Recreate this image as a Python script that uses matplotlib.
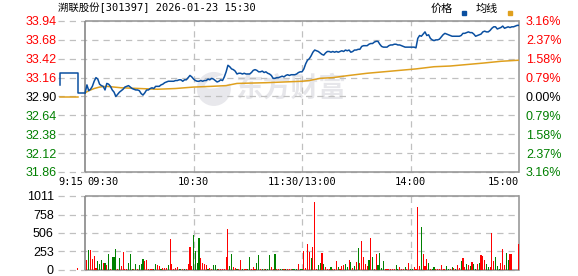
import matplotlib
matplotlib.use("Agg")
import matplotlib.pyplot as plt
from matplotlib.patches import Ellipse, Rectangle
import matplotlib.transforms as mtransforms

# ---------------- data ----------------
title_text = "溯联股份[301397] 2026-01-23 15:30"
prev_close = 32.90
price_ticks = [33.94, 33.68, 33.42, 33.16, 32.90, 32.64, 32.38, 32.12, 31.86]
pct_labels = ["3.16%", "2.37%", "1.58%", "0.79%", "0.00%", "0.79%", "1.58%", "2.37%", "3.16%"]

# pre-market (minutes relative to 09:30)
pre_minutes = [-14, -14, -4, -4, 0]
pre_prices = [33.06, 33.23, 33.23, 32.95, 32.95]
pre_avg_minutes = [-14, -4]
pre_avg_values = [32.89, 32.89]
pre_vol_minute = [-4]
pre_vol = [31]

# minute prices 09:30 .. 11:30 (0..120), 13:00 .. 15:00 (120..240)
price = [
    32.95, 33.06, 32.98, 33.00, 33.04, 33.11, 33.16, 33.14, 33.07, 33.05,
    33.04, 32.99, 33.08, 33.07, 33.04, 32.99, 32.96, 32.90, 32.93, 32.96,
    32.98, 33.00, 33.03, 33.04, 33.05, 33.03, 33.01, 33.00, 32.99, 32.99,
    32.98, 32.94, 32.92, 32.95, 32.99, 32.99, 33.01, 33.02, 33.01, 33.04,
    33.04, 33.04, 33.06, 33.07, 33.09, 33.10, 33.11, 33.11, 33.11, 33.11,
    33.12, 33.12, 33.13, 33.13, 33.11, 33.13, 33.13, 33.16, 33.19, 33.17,
    33.14, 33.12, 33.11, 33.11, 33.12, 33.11, 33.12, 33.12, 33.14, 33.13,
    33.15, 33.14, 33.12, 33.10, 33.11, 33.13, 33.12, 33.17, 33.24, 33.33,
    33.31, 33.28, 33.27, 33.25, 33.21, 33.22, 33.22, 33.21, 33.22, 33.21,
    33.21, 33.21, 33.23, 33.26, 33.27, 33.26, 33.24, 33.24, 33.25, 33.23,
    33.24, 33.22, 33.21, 33.19, 33.15, 33.15, 33.16, 33.16, 33.17, 33.18,
    33.17, 33.19, 33.20, 33.19, 33.20, 33.20, 33.20, 33.21, 33.23, 33.24,
    33.24, 33.28, 33.35, 33.40, 33.42, 33.46, 33.51, 33.54, 33.53, 33.52,
    33.50, 33.48, 33.47, 33.50, 33.52, 33.52, 33.51, 33.52, 33.51, 33.52,
    33.51, 33.52, 33.53, 33.52, 33.54, 33.53, 33.54, 33.51, 33.52, 33.54,
    33.54, 33.55, 33.55, 33.59, 33.60, 33.60, 33.60, 33.62, 33.63, 33.63,
    33.65, 33.66, 33.66, 33.62, 33.59, 33.58, 33.58, 33.58, 33.60, 33.61,
    33.61, 33.62, 33.62, 33.61, 33.61, 33.60, 33.59, 33.58, 33.58, 33.58,
    33.58, 33.58, 33.58, 33.57, 33.70, 33.74, 33.73, 33.76, 33.79, 33.74,
    33.75, 33.70, 33.68, 33.67, 33.68, 33.68, 33.69, 33.72, 33.75, 33.77,
    33.76, 33.75, 33.74, 33.73, 33.73, 33.73, 33.73, 33.73, 33.74, 33.77,
    33.77, 33.78, 33.79, 33.78, 33.78, 33.76, 33.73, 33.74, 33.75, 33.76,
    33.79, 33.80, 33.79, 33.79, 33.81, 33.84, 33.86, 33.86, 33.83, 33.84,
    33.85, 33.87, 33.84, 33.85, 33.86, 33.85, 33.86, 33.86, 33.87, 33.88,
    33.88,
]

avg_minutes = [0, 2, 5, 8, 12, 20, 30, 40, 50, 60, 70, 78, 84, 100, 110, 120,
               124, 130, 137, 146, 156, 165, 174, 183, 193, 202, 211, 220, 230, 240]
avg_values = [32.95, 32.98, 33.01, 33.03, 33.04, 33.02, 33.01, 33.00, 33.01, 33.03,
              33.04, 33.05, 33.08, 33.09, 33.10, 33.11, 33.12, 33.15, 33.16, 33.19,
              33.22, 33.24, 33.26, 33.28, 33.31, 33.32, 33.34, 33.36, 33.385, 33.40]

# minute volumes for minutes 1..240 and direction (R = up, G = down)
volume = [
    137, 273, 273, 150, 191, 32, 123, 82, 137, 96,
    96, 68, 219, 14, 178, 178, 287, 14, 164, 59,
    246, 14, 14, 96, 219, 14, 14, 82, 14, 68,
    82, 150, 123, 137, 14, 14, 14, 14, 82, 68,
    55, 14, 27, 27, 27, 68, 423, 82, 14, 27,
    41, 14, 14, 14, 14, 14, 82, 314, 55, 478,
    260, 96, 437, 164, 96, 82, 68, 14, 27, 14,
    68, 68, 14, 14, 14, 14, 14, 178, 560, 55,
    219, 41, 27, 14, 14, 137, 14, 14, 14, 14,
    178, 14, 41, 14, 96, 205, 14, 14, 14, 14,
    14, 205, 41, 14, 219, 14, 14, 14, 14, 14,
    14, 14, 14, 14, 14, 14, 14, 82, 14, 14,
    260, 27, 355, 246, 164, 314, 929, 14, 68, 96,
    232, 82, 41, 14, 14, 41, 14, 14, 123, 41,
    14, 55, 68, 82, 41, 137, 109, 27, 55, 109,
    300, 96, 396, 178, 82, 55, 137, 437, 178, 14,
    219, 68, 232, 27, 123, 14, 14, 14, 14, 14,
    14, 68, 14, 41, 14, 14, 41, 14, 96, 14,
    14, 41, 14, 860, 55, 587, 219, 55, 150, 96,
    14, 14, 41, 14, 14, 14, 68, 14, 14, 55,
    14, 14, 41, 27, 14, 68, 27, 123, 164, 41,
    82, 68, 55, 109, 82, 14, 82, 96, 205, 191,
    137, 82, 41, 41, 505, 123, 178, 55, 14, 96,
    287, 68, 232, 137, 219, 219, 0, 0, 0, 355,
]
direction = (
    "RGRRRRGGGR" "GRGRGGGRGR" "RRRGGGRGRG" "GGRRRRRGGR"
    "RGRRRGRRRR" "RGGRGRRRRG" "GGGRRRRGRR" "GGGRRRRRRG"
    "GRRGRRGRRG" "GRRRGGRGRG" "GGRRGRRGGR" "GRRRGGGRGG"
    "RRRRGRRRGG" "RGRRRGRRRG" "RRRGGRGRGR" "GRRRRRGRGR"
    "RGGGGRRRRR" "RGGRRRGRRG" "GRRRRGRRRG" "RGGRRRRRRG"
    "GRGRGRRGRR" "GRGRGGRGRR" "RGGRRRGGGR" "RRGGRRGRRR"
)
vol_ticks = [0, 253, 506, 758, 1011]

xtick_minutes = [-15, 0, 60, 120, 180, 240]
xtick_labels = ["9:15", "09:30", "10:30", "11:30/13:00", "14:00", "15:00"]
xtick_align = ["left", "left", "center", "center", "center", "right"]
vgrid_minutes = [60, 120, 180]

# ---------------- style ----------------
W, H, DPI = 578, 276, 100
RED = "#ff0000"
GREEN = "#008000"
BLUE = "#0a4fa0"
GOLD = "#dfa01e"
GRID = "#c0c0c0"
BORDER = "#999999"
DASH = (0, (5, 4))
GRID_LW = 0.9
NUM_FONT = "Liberation Sans"
MONO = ["DejaVu Sans Mono", "Noto Sans CJK SC"]

fig = plt.figure(figsize=(W / DPI, H / DPI), dpi=DPI)
fig.patch.set_facecolor("white")

ax = fig.add_axes([58 / W, 1 - 172 / H, 461 / W, 151 / H])
axv = fig.add_axes([58 / W, 1 - 270 / H, 461 / W, 74 / H])

ymin, ymax = price_ticks[-1], price_ticks[0]


def frame(a, lo, hi, yt):
    a.set_xlim(-15, 240)
    a.set_ylim(lo, hi)
    a.set_yticks(yt)
    for s in ["top", "bottom", "left"]:
        a.spines[s].set_visible(False)
    a.spines["right"].set_color(BORDER)
    a.spines["right"].set_linewidth(1.2)
    a.set_xticks([])
    a.hlines(yt, -15, 240, colors=GRID, linewidths=GRID_LW, linestyles=DASH,
             zorder=2, clip_on=False)
    a.vlines(vgrid_minutes, lo, hi, colors=GRID, linewidths=GRID_LW,
             linestyles=DASH, zorder=2)
    a.hlines([lo, hi], 0, 240, colors=BORDER, linewidths=1.2, zorder=3, clip_on=False)
    a.axvline(0, color="#888888", lw=1.2, zorder=3)
    a.tick_params(axis="both", length=0)


frame(ax, ymin, ymax, price_ticks)
frame(axv, 0, vol_ticks[-1], vol_ticks)

# watermark
ax.add_patch(Ellipse((0.338, 0.55), 34 / 461, 34 / 151, transform=ax.transAxes,
                     color="#e8e8ec", zorder=0.5, lw=0))
ax.add_patch(Ellipse((0.352, 0.60), 22 / 461, 16 / 151, angle=-30, transform=ax.transAxes,
                     color="white", zorder=0.6, lw=0))
ax.text(0.505, 0.55, "东方财富", transform=ax.transAxes, ha="center", va="center",
        fontsize=20, fontweight="bold", color="#e6e6ea", family=["Noto Sans CJK SC"],
        zorder=0.5)

# price lines
ax.plot(pre_minutes, pre_prices, color=BLUE, lw=1.1, zorder=5)
ax.plot(pre_avg_minutes, pre_avg_values, color=GOLD, lw=1.1, zorder=4)
ax.plot(range(len(price)), price, color=BLUE, lw=1.1, zorder=5)
ax.plot(avg_minutes, avg_values, color=GOLD, lw=1.1, zorder=4)

# y labels
ax.set_yticklabels([f"{v:.2f}" for v in price_ticks], family=NUM_FONT, fontsize=9)
ax.tick_params(axis="y", pad=1)


def tcol(v):
    if v > prev_close + 1e-9:
        return RED
    if v < prev_close - 1e-9:
        return GREEN
    return "black"


for lab, v in zip(ax.get_yticklabels(), price_ticks):
    lab.set_color(tcol(v))

axr = ax.twinx()
axr.set_ylim(ymin, ymax)
axr.set_yticks(price_ticks)
axr.set_yticklabels(pct_labels, family=NUM_FONT, fontsize=9)
axr.tick_params(axis="y", length=0, pad=5)
for s in axr.spines.values():
    s.set_visible(False)
for lab, v in zip(axr.get_yticklabels(), price_ticks):
    lab.set_color(tcol(v))

# x labels
for m, lab, ha in zip(xtick_minutes, xtick_labels, xtick_align):
    off = 2 if (m == 0) else 0
    tr = mtransforms.blended_transform_factory(ax.transData, ax.transAxes) + \
        mtransforms.ScaledTranslation(off / DPI, 0, fig.dpi_scale_trans)
    ax.text(m, -0.068, lab, transform=tr, ha=ha, va="center", fontsize=7.5,
            family=MONO, color="black")

# volume
axv.bar(pre_vol_minute, pre_vol, width=0.6, color=RED, zorder=4, linewidth=0,
        antialiased=False)
vol_minutes = list(range(1, len(volume) + 1))
vol_colors = [RED if d == "R" else GREEN for d in direction]
axv.bar(vol_minutes, volume, width=0.62, color=vol_colors, zorder=4, linewidth=0,
        antialiased=False)
axv.set_yticklabels([str(v) for v in vol_ticks], family=NUM_FONT, fontsize=9)
axv.tick_params(axis="y", pad=3)

# title and legend
fig.text(58 / W, 1 - 8 / H, title_text, ha="left", va="center", fontsize=7.5,
         family=MONO, color="black")
fig.text(431 / W, 1 - 9 / H, "价格", ha="left", va="center", fontsize=8,
         family=["Noto Sans CJK SC"], color="black")
fig.text(476 / W, 1 - 9 / H, "均线", ha="left", va="center", fontsize=8,
         family=["Noto Sans CJK SC"], color="black")
fig.patches.append(Rectangle((462 / W, 1 - 14.5 / H), 4 / W, 3 / H,
                             transform=fig.transFigure, color=BLUE, figure=fig))
fig.patches.append(Rectangle((508 / W, 1 - 14.5 / H), 4 / W, 3 / H,
                             transform=fig.transFigure, color=GOLD, figure=fig))

fig.savefig("out.png", dpi=DPI, facecolor="white")
